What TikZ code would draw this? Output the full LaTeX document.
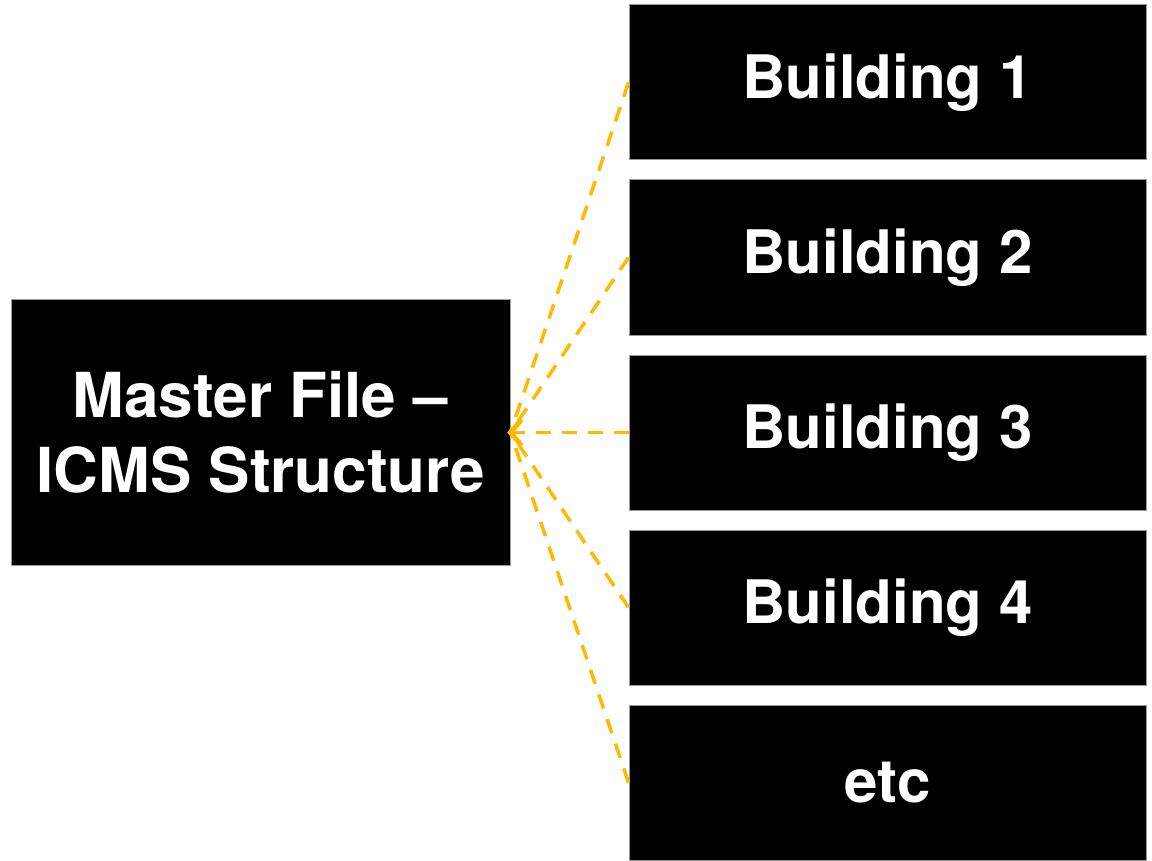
\documentclass[tikz,border=0pt]{standalone}
\usepackage{fontspec}
\setmainfont{TeX Gyre Heros}
\definecolor{linkorange}{HTML}{FFB900}
\tikzset{
  blockbox/.style={draw=gray!80, line width=1pt, fill=black, text=white,
    font=\fontsize{60}{75}\selectfont\bfseries, align=center, inner sep=0pt},
  linkline/.style={draw=linkorange, line width=3.5pt, dash pattern=on 15pt off 11pt},
  linkhead/.style={draw=linkorange, line width=5pt, solid, line join=miter}
}
\begin{document}
\begin{tikzpicture}[x=1pt,y=-1pt]
  \useasboundingbox (0,0) rectangle (1152,861);
  % master block
  \node[blockbox, font=\fontsize{62}{75}\selectfont\bfseries,
    minimum width=499pt, minimum height=265pt] (master) at (260.5,432.5)
    {Master File --\\ICMS Structure};
  % building blocks
  \node[blockbox, minimum width=517pt, minimum height=155pt] (b1) at (887.5,82.5) {Building 1};
  \node[blockbox, minimum width=517pt, minimum height=155pt] (b2) at (887.5,257.5) {Building 2};
  \node[blockbox, minimum width=517pt, minimum height=155pt] (b3) at (887.5,432.5) {Building 3};
  \node[blockbox, minimum width=517pt, minimum height=155pt] (b4) at (887.5,607.5) {Building 4};
  \node[blockbox, minimum width=517pt, minimum height=155pt] (b5) at (887.5,782.5) {etc};
  % dashed links into the master block
  \foreach \b in {b1,b2,b3,b4,b5}
    \draw[linkline] (\b.west) -- (master.east);
  % open head where the links meet
  \coordinate (tip) at ([xshift=0pt]master.east);
  \draw[linkhead] ([xshift=11pt,yshift=13pt]tip) -- (tip) -- ([xshift=11pt,yshift=-13pt]tip);
\end{tikzpicture}
\end{document}
